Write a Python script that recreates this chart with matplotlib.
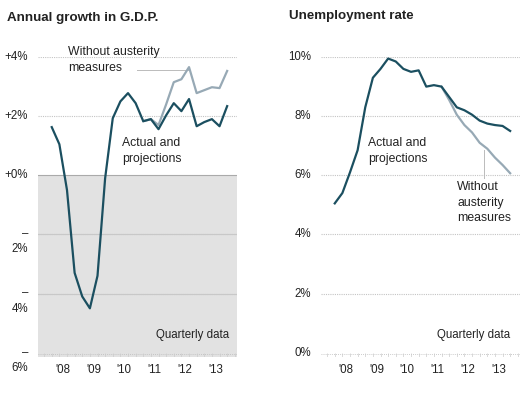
import numpy as np
import matplotlib
matplotlib.use('Agg')
import matplotlib.pyplot as plt
from matplotlib.transforms import offset_copy

plt.rcParams['font.family'] = ['Liberation Sans', 'DejaVu Sans']

# quarterly data, 2008 Q1 .. 2013 Q4
quarters = np.arange(24)
year_labels = ["'08", "'09", "'10", "'11", "'12", "'13"]

gdp_actual = [1.63, 1.05, -0.5, -3.3, -4.1, -4.5, -3.4, -0.1,
              1.93, 2.5, 2.78, 2.44, 1.83, 1.9, 1.56, 2.03,
              2.44, 2.17, 2.58, 1.66, 1.8, 1.9, 1.66, 2.34]
gdp_no_austerity = [1.83, 1.9, 1.7, 2.4, 3.15, 3.25, 3.66, 2.78,
                    2.88, 2.98, 2.95, 3.53]   # from 2011 Q1

unemp_actual = [5.05, 5.4, 6.1, 6.85, 8.3, 9.3, 9.6, 9.95,
                9.85, 9.6, 9.5, 9.55, 9.0, 9.05, 9.0, 8.65,
                8.3, 8.2, 8.05, 7.85, 7.75, 7.7, 7.67, 7.5]
unemp_no_austerity = [9.0, 8.55, 8.05, 7.7, 7.45, 7.1, 6.9, 6.6,
                      6.35, 6.07]   # from 2011 Q3

gdp_ticks = [4, 2, 0, -2, -4, -6]
gdp_ticklabels = ['+4%', '+2%', '+0%', '2%', '4%', '6%']
unemp_ticks = [10, 8, 6, 4, 2, 0]
unemp_ticklabels = ['10%', '8%', '6%', '4%', '2%', '0%']

dark = '#1b4f60'
light = '#97a9b5'
txt = '#222222'
grid_c = '#c4c4c4'

fig = plt.figure(figsize=(5.28, 3.99), dpi=100)
ax1 = fig.add_axes([0.072, 0.105, 0.377, 0.752])
ax2 = fig.add_axes([0.608, 0.105, 0.377, 0.752])


def setup(ax, ticks, labels, ylim, neg=False):
    ax.set_xlim(-1.8, 24.3)
    ax.set_ylim(*ylim)
    for s in ax.spines.values():
        s.set_visible(False)
    ax.set_yticks([])
    ax.set_xticks([1.5 + 4 * k for k in range(6)])
    ax.set_xticklabels(year_labels, fontsize=8.3, color=txt)
    ax.tick_params(axis='x', length=0, pad=5)
    for t, l in zip(ticks, labels):
        if not (neg and t == -6) and t != 0 or not neg and t != 0:
            ax.axhline(t, color=grid_c, lw=0.8, ls=(0, (1, 1)), zorder=1)
        tr = offset_copy(ax.get_yaxis_transform(), fig=fig, x=-10, y=0, units='dots')
        if neg and t < 0:
            ax.text(0, t, '\u2013', transform=tr, ha='right', va='center',
                    fontsize=8.3, color=txt)
            tr2 = offset_copy(ax.get_yaxis_transform(), fig=fig, x=-10, y=-15, units='dots')
            ax.text(0, t, l, transform=tr2, ha='right', va='center',
                    fontsize=8.3, color=txt)
        else:
            ax.text(0, t, l, transform=tr, ha='right', va='center',
                    fontsize=8.3, color=txt)
    # dotted baseline with quarter ticks
    ax.axhline(ylim[0] + 0.1, color='#bbbbbb', lw=0.6, ls=(0, (1, 1.5)), zorder=1)
    ax.vlines(np.arange(-1, 25), ylim[0], ylim[0] + 0.15, color='#cccccc', lw=0.5)


# --- GDP panel ---
setup(ax1, gdp_ticks, gdp_ticklabels, (-6.15, 4), neg=True)
ax1.axhspan(-6.15, 0, color='#e2e2e2', zorder=0, lw=0)
ax1.axhline(0, color='#aaaaaa', lw=0.8, zorder=1)
ax1.axhline(-2, color='#c8c8c8', lw=0.8, zorder=1)
ax1.axhline(-4, color='#c8c8c8', lw=0.8, zorder=1)
ax1.plot(quarters[12:], gdp_no_austerity, color=light, lw=1.6, zorder=3)
ax1.plot(quarters, gdp_actual, color=dark, lw=1.6, zorder=4)
ax1.plot([11.2, 18], [3.56, 3.56], color='#bbbbbb', lw=0.7, zorder=2)
ax1.text(2.1, 4.36, 'Without austerity\nmeasures', fontsize=8.8, color=txt,
         ha='left', va='top', linespacing=1.4, clip_on=False)
ax1.text(9.2, 1.28, 'Actual and\nprojections', fontsize=8.8, color=txt,
         ha='left', va='top', linespacing=1.4)
ax1.text(23.2, -5.39, 'Quarterly data', fontsize=8.3, color=txt,
         ha='right', va='center')
fig.text(7 / 528, 1 - 18 / 399, 'Annual growth in G.D.P.', fontsize=9.6,
         fontweight='bold', color=txt, ha='left', va='center')

# --- Unemployment panel ---
setup(ax2, unemp_ticks, unemp_ticklabels, (-0.15, 10))
ax2.plot(quarters[14:], unemp_no_austerity, color=light, lw=1.6, zorder=3)
ax2.plot(quarters, unemp_actual, color=dark, lw=1.6, zorder=4)
ax2.plot([19.6, 19.6], [6.85, 5.9], color='#bbbbbb', lw=0.7, zorder=2)
ax2.text(4.34, 7.28, 'Actual and\nprojections', fontsize=8.8, color=txt,
         ha='left', va='top', linespacing=1.4)
ax2.text(16.05, 5.8, 'Without\nausterity\nmeasures', fontsize=8.8, color=txt,
         ha='left', va='top', linespacing=1.4)
ax2.text(23.0, 0.61, 'Quarterly data', fontsize=8.3, color=txt,
         ha='right', va='center')
fig.text(289 / 528, 1 - 16 / 399, 'Unemployment rate', fontsize=9.6,
         fontweight='bold', color=txt, ha='left', va='center')

fig.savefig('out.png', dpi=100)
